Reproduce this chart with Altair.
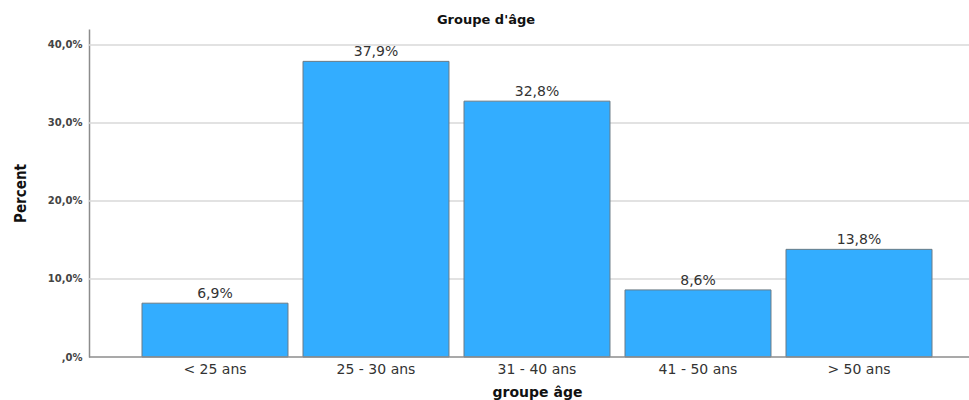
import altair as alt
import pandas as pd

categories = ["< 25 ans", "25 - 30 ans", "31 - 40 ans", "41 - 50 ans", "> 50 ans"]
percents = [6.9, 37.9, 32.8, 8.6, 13.8]
labels = ["6,9%", "37,9%", "32,8%", "8,6%", "13,8%"]
y_ticks = [0, 10, 20, 30, 40]
grid_values = [10, 20, 30, 40]

df = pd.DataFrame({"groupe": categories, "pct": percents, "label": labels})
grid_df = pd.DataFrame({"v": grid_values})
base_df = pd.DataFrame({"v": [0]})

y_scale = alt.Scale(domain=[0, 42.05], nice=False)
y_axis = alt.Axis(
    values=y_ticks, grid=False,
    ticks=False, domain=True, domainColor="#8c8c8c", domainWidth=1.5,
    labelExpr="datum.value == 0 ? ',0%' : replace(format(datum.value, '.1f'), '.', ',') + '%'",
    labelFont="DejaVu Sans", labelFontSize=10, labelFontWeight="bold",
    labelColor="#444444", labelPadding=7,
    titleFont="DejaVu Sans Condensed", titleFontSize=15, titleFontWeight="bold",
    titleColor="#111111", titlePadding=19,
)

grid = alt.Chart(grid_df).mark_rule(color="#d9d9d9", strokeWidth=1.3).encode(
    y=alt.Y("v:Q", scale=y_scale, axis=y_axis, title="Percent"),
    x=alt.value(0),
    x2=alt.value(880),
)

baseline = alt.Chart(base_df).mark_rule(color="#8c8c8c", strokeWidth=1.5).encode(
    y=alt.Y("v:Q", scale=y_scale),
    x=alt.value(0),
    x2=alt.value(880),
)

x_enc = alt.X(
    "groupe:N",
    sort=categories,
    title="groupe âge",
    scale=alt.Scale(range=[53, 843], paddingInner=0.0932, paddingOuter=0),
    axis=alt.Axis(
        labelAngle=0, ticks=False, domain=False,
        labelFont="DejaVu Sans", labelFontSize=14, labelColor="#333333", labelPadding=5,
        titleFont="DejaVu Sans", titleFontSize=14, titleFontWeight="bold",
        titleColor="#111111", titlePadding=9,
    ),
)

bars = alt.Chart(df).mark_bar(
    color="#33adff", stroke="#6b7b86", strokeWidth=1
).encode(x=x_enc, y=alt.Y("pct:Q", scale=y_scale, title="Percent"))

text = alt.Chart(df).mark_text(
    dy=-9, font="DejaVu Sans", fontSize=14, color="#333333"
).encode(
    x=alt.X("groupe:N", sort=categories),
    y="pct:Q",
    text="label:N",
)

chart = (grid + bars + baseline + text).properties(
    width=880,
    height=328,
    autosize=alt.AutoSizeParams(type="none"),
    padding={"left": 89, "top": 29, "right": 0, "bottom": 43},
    title=alt.TitleParams(
        "Groupe d'âge", font="DejaVu Sans", fontSize=13, fontWeight="bold",
        color="#111111", anchor="middle", dx=-43, offset=2,
    ),
).configure_view(stroke=None)

chart.save("out.html", embed_options={"renderer": "svg", "actions": False})
